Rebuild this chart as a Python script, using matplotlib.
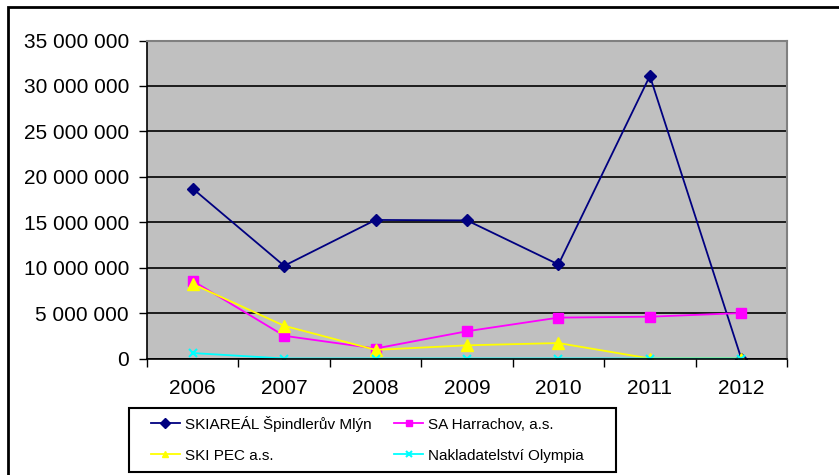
import matplotlib.pyplot as plt
from matplotlib.patches import Rectangle
from matplotlib.ticker import FuncFormatter, MultipleLocator

plt.rcParams['font.family'] = ['Liberation Sans', 'DejaVu Sans']

years = ['2006', '2007', '2008', '2009', '2010', '2011', '2012']
spindl = [18.7e6, 10.2e6, 15.25e6, 15.2e6, 10.35e6, 31.1e6, 0]
harrachov = [8.55e6, 2.5e6, 1.1e6, 3.0e6, 4.5e6, 4.6e6, 5.0e6]
skipec = [8.2e6, 3.6e6, 0.95e6, 1.45e6, 1.7e6, 0, 0]
olympia = [0.6e6, 0, 0, 0, 0, 0, 0]
labels = ['SKIAREÁL Špindlerův Mlýn', 'SA Harrachov, a.s.',
          'SKI PEC a.s.', 'Nakladatelství Olympia']

W, H = 839, 475
fig = plt.figure(figsize=(W / 100, H / 100), dpi=100)
# outer chart border
fig.patches.append(Rectangle((8 / W, -0.01), 1.0, 1 - 7 / H + 0.01,
                             transform=fig.transFigure, fill=False,
                             edgecolor='black', linewidth=2))

ax = fig.add_axes([147 / W, 1 - 358.5 / H, 640 / W, 318 / H])
ax.set_facecolor('#c0c0c0')

x = range(len(years))
l1, = ax.plot(x, spindl, color='#000080', marker='D', markersize=6, lw=1.3)
l2, = ax.plot(x, harrachov, color='#ff00ff', marker='s', markersize=7, lw=1.3)
l3, = ax.plot(x, skipec, color='#ffff00', marker='^', markersize=8, lw=1.3)
l4, = ax.plot(x, olympia, color='#00ffff', marker='x', markersize=6, mew=1.5, lw=1.3)

ax.set_xlim(-0.5, len(years) - 0.5)
ax.set_ylim(0, 35e6)
ax.yaxis.set_major_locator(MultipleLocator(5e6))
ax.yaxis.set_major_formatter(FuncFormatter(lambda v, p: f'{int(v):,}'.replace(',', ' ')))
ax.grid(axis='y', color='black', linewidth=1.2)
ax.set_axisbelow(True)

ax.set_xticks([i + 0.5 for i in range(-1, len(years))], minor=False)
ax.set_xticklabels([])
ax.set_xticks(list(x), minor=True)
ax.set_xticklabels(years, minor=True)
ax.tick_params(axis='x', which='major', length=6, width=1, direction='out')
ax.tick_params(axis='x', which='minor', length=0, labelsize=15, pad=15)
ax.tick_params(axis='y', length=6, width=1, direction='out', labelsize=15, pad=7)

for s in ['top', 'right']:
    ax.spines[s].set_color('#808080')
    ax.spines[s].set_linewidth(1.5)
for s in ['left', 'bottom']:
    ax.spines[s].set_color('black')
    ax.spines[s].set_linewidth(1.2)

# legend: row-major order like the original (matplotlib fills columns first)
handles = [l1, l3, l2, l4]
leg_labels = [labels[0], labels[2], labels[1], labels[3]]
leg = fig.legend(handles, leg_labels, loc='upper left',
                 bbox_to_anchor=(137 / W, 1 - 402 / H), ncol=2,
                 fontsize=11, frameon=False,
                 handlelength=1.9, columnspacing=1.5, borderpad=0.4,
                 labelspacing=1.1, handletextpad=0.33)
for h in leg.legend_handles:
    h.set_markersize(5)
fig.patches.append(Rectangle((129 / W, 1 - 472 / H), (616 - 129) / W, 64 / H,
                             transform=fig.transFigure, fill=False,
                             edgecolor='black', linewidth=1.5))

fig.savefig('out.png', dpi=100)
